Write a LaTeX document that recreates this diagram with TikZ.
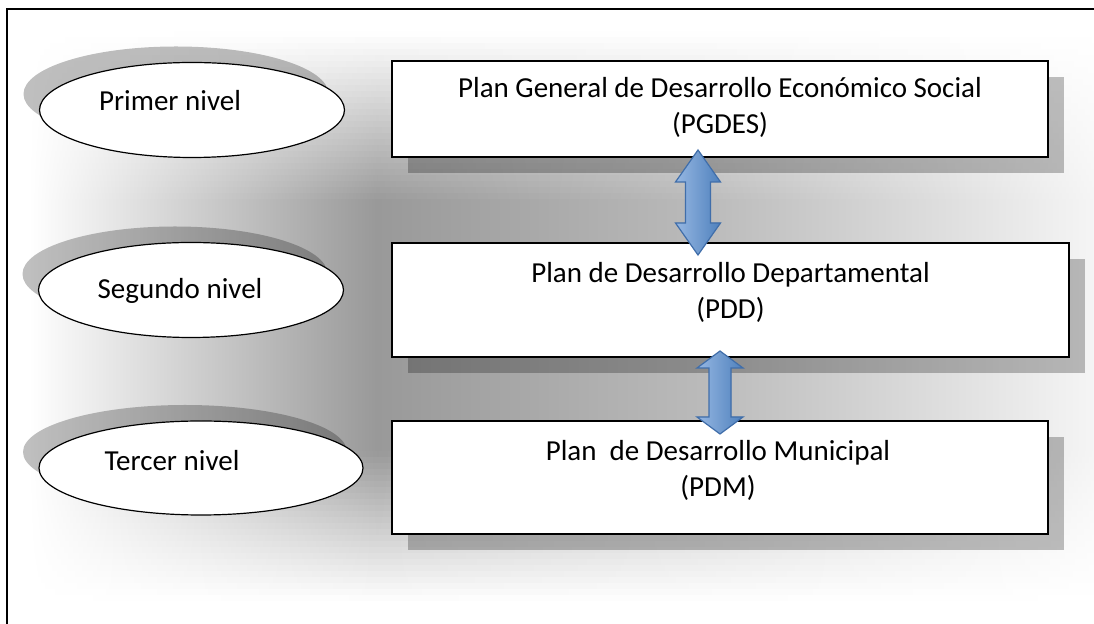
\documentclass[tikz,border=0pt]{standalone}
\usepackage{fontspec}
\setmainfont{Carlito}
\usepackage{tikz}
\usetikzlibrary{shapes.geometric,shadows,calc}

\definecolor{arrowlight}{RGB}{150,183,226}
\definecolor{arrowdark}{RGB}{79,129,189}
\definecolor{arrowline}{RGB}{64,110,170}
\definecolor{arrowshade}{RGB}{40,70,110}
\colorlet{glowa}{black!40}
\colorlet{glowb}{black!27}
\colorlet{glowc}{black!4}
\pgfdeclarehorizontalshading[glowa,glowb,glowc]{glow}{100bp}{color(0bp)=(white); color(26bp)=(white);
  color(42bp)=(glowa); color(57bp)=(glowb); color(75bp)=(glowc); color(100bp)=(glowc)}

\tikzset{
  nivel/.style={ellipse, draw, line width=.6pt, fill=white,
    general shadow={fill=black, opacity=.25, shadow xshift=-8pt, shadow yshift=8pt}},
  plan/.style={rectangle, draw, line width=.9pt, fill=white,
    general shadow={fill=black, opacity=.25, shadow xshift=8pt, shadow yshift=-8pt}},
  lbl/.style={font=\fontsize{14.5}{18}\selectfont, align=center, inner sep=0pt},
  flecha/.style={draw=arrowline, line width=.6pt, left color=arrowlight, right color=arrowdark}
}

\begin{document}
\begin{tikzpicture}[x=0.5pt, y=-0.5pt]
  \useasboundingbox (0,0) rectangle (1094,624);
  % grey glow behind the diagram
  \foreach \y in {20,26,...,608}
  {
    \pgfmathsetmacro\op{max(0,min(1,min((\y-30)/170,(600-\y)/150)))}
    \pgfmathsetmacro\pa{40*\op}
    \pgfmathsetmacro\pb{27*\op}
    \pgfmathsetmacro\pc{4*\op}
    \colorlet{glowa}{black!\pa}
    \colorlet{glowb}{black!\pb}
    \colorlet{glowc}{black!\pc}
    \shade[shading=glow] (7,\y) rectangle (1094,\y+7);
  }
  \draw[line width=.7pt] (1094,9) -| (7,624);

  % levels
  \node[nivel, minimum width=152.5pt, minimum height=47.5pt] (n1) at (192,110) {};
  \node[nivel, minimum width=152.5pt, minimum height=47.5pt] (n2) at (191,290) {};
  \node[nivel, minimum width=162pt, minimum height=47pt] (n3) at (201,468) {};
  \node[lbl] (n1txt) at (170,101) {Primer nivel};
  \node[lbl] (n2txt) at (180,291) {Segundo nivel};
  \node[lbl] (n3txt) at (172,461) {Tercer nivel};

  % plans
  \node[plan, minimum width=328pt, minimum height=48pt] (pgdes) at (720,109) {};
  \node[plan, minimum width=338.5pt, minimum height=57pt] (pdd) at (730.5,300) {};
  \node[plan, minimum width=328pt, minimum height=56.5pt] (pdm) at (720,477.5) {};
  \node[lbl] (pgdestxt) at (720,107) {Plan General de Desarrollo Económico Social\\(PGDES)};
  \node[lbl] (pddtxt) at (730.5,292) {Plan de Desarrollo Departamental\\(PDD)};
  \node[lbl] (pdmtxt) at (718,470) {Plan\ \ de Desarrollo Municipal\\(PDM)};

  % double arrows between plans
  \coordinate (a1t) at (698,150);
  \coordinate (a1b) at (698,255);
  \coordinate (a2t) at (720,351);
  \coordinate (a2b) at (720,434);
  \foreach \t/\b/\h/\s/\l in {a1t/a1b/22.5/12.5/32, a2t/a2b/23/11/17}
  {
    \fill[arrowshade, opacity=.7, shift={(3,3)}] (\t) -- ($(\t)+(\h,\l)$) -- ($(\t)+(\s,\l)$)
      -- ($(\b)+(\s,-\l)$) -- ($(\b)+(\h,-\l)$) -- (\b) -- ($(\b)+(-\h,-\l)$)
      -- ($(\b)+(-\s,-\l)$) -- ($(\t)+(-\s,\l)$) -- ($(\t)+(-\h,\l)$) -- cycle;
    \path[flecha] (\t) -- ($(\t)+(\h,\l)$) -- ($(\t)+(\s,\l)$)
      -- ($(\b)+(\s,-\l)$) -- ($(\b)+(\h,-\l)$) -- (\b) -- ($(\b)+(-\h,-\l)$)
      -- ($(\b)+(-\s,-\l)$) -- ($(\t)+(-\s,\l)$) -- ($(\t)+(-\h,\l)$) -- cycle;
  }
\end{tikzpicture}
\end{document}
